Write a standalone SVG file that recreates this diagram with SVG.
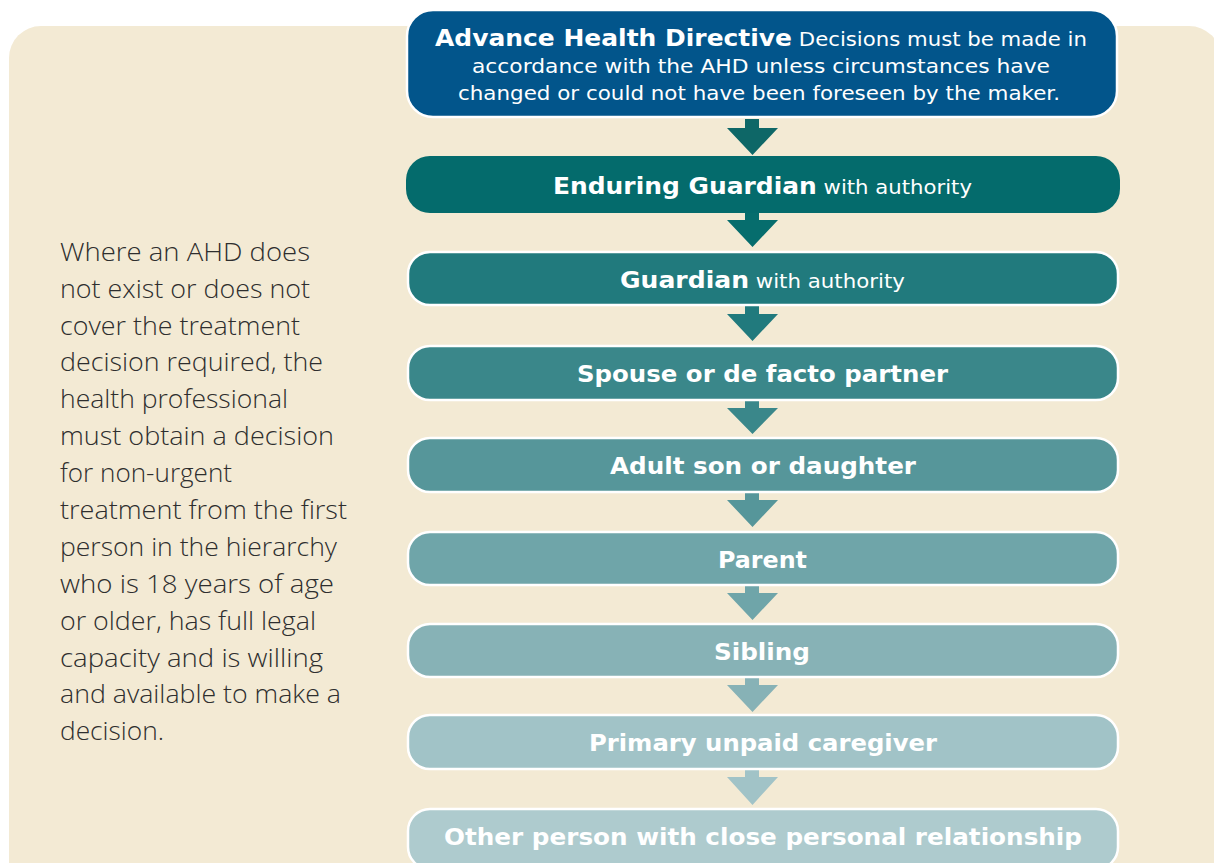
<svg xmlns="http://www.w3.org/2000/svg" width="1214" height="863" viewBox="0 0 1214 863">
<style>
.bx{stroke:#ffffff;stroke-width:2.5}
.t{font-family:"DejaVu Sans","Liberation Sans",Arial,sans-serif;fill:#ffffff;text-anchor:middle}
.b{font-weight:bold;font-size:23.5px}
.r{font-weight:normal;font-size:20px}
.side{font-family:"Open Sans","Liberation Sans",Arial,sans-serif;font-weight:300;font-size:26px;fill:#2e2e2e}
</style>
<rect x="0" y="0" width="1214" height="863" fill="#ffffff"/>
<rect x="9" y="26" width="1212" height="900" rx="32" fill="#F3EAD4"/>
<g id="side-text" class="side">
<text x="60" y="261" textLength="250" lengthAdjust="spacingAndGlyphs">Where an AHD does</text>
<text x="60" y="298" textLength="250" lengthAdjust="spacingAndGlyphs">not exist or does not</text>
<text x="60" y="335" textLength="240" lengthAdjust="spacingAndGlyphs">cover the treatment</text>
<text x="60" y="371" textLength="263" lengthAdjust="spacingAndGlyphs">decision required, the</text>
<text x="60" y="408" textLength="228" lengthAdjust="spacingAndGlyphs">health professional</text>
<text x="60" y="445" textLength="274" lengthAdjust="spacingAndGlyphs">must obtain a decision</text>
<text x="60" y="482" textLength="172" lengthAdjust="spacingAndGlyphs">for non-urgent</text>
<text x="60" y="519" textLength="287" lengthAdjust="spacingAndGlyphs">treatment from the first</text>
<text x="60" y="556" textLength="277" lengthAdjust="spacingAndGlyphs">person in the hierarchy</text>
<text x="60" y="593" textLength="274" lengthAdjust="spacingAndGlyphs">who is 18 years of age</text>
<text x="60" y="630" textLength="256" lengthAdjust="spacingAndGlyphs">or older, has full legal</text>
<text x="60" y="667" textLength="263" lengthAdjust="spacingAndGlyphs">capacity and is willing</text>
<text x="60" y="703" textLength="281" lengthAdjust="spacingAndGlyphs">and available to make a</text>
<text x="60" y="740" textLength="104" lengthAdjust="spacingAndGlyphs">decision.</text>
</g>
<g id="connectors">
<polygon points="745,119 759,119 759,128 778,128 752.5,155 727,128 745,128" fill="#0E6767"/>
<polygon points="745,213 759,213 759,220 778,220 752.5,247 727,220 745,220" fill="#066D6D"/>
<polygon points="745,306 759,306 759,314 778,314 752.5,341 727,314 745,314" fill="#217A7D"/>
<polygon points="745,401 759,401 759,408 778,408 752.5,434 727,408 745,408" fill="#3A878A"/>
<polygon points="745,493 759,493 759,500 778,500 752.5,527 727,500 745,500" fill="#56969A"/>
<polygon points="745,586 759,586 759,593 778,593 752.5,620 727,593 745,593" fill="#6FA5A9"/>
<polygon points="745,678 759,678 759,685 778,685 752.5,712 727,685 745,685" fill="#87B2B6"/>
<polygon points="745,770 759,770 759,777 778,777 752.5,805 727,777 745,777" fill="#A1C3C7"/>
</g>
<g id="n-ahd">
<rect class="bx" x="407" y="10" width="710" height="107" rx="26" fill="#02558B"/>
<text class="t" x="761" y="46" textLength="652" lengthAdjust="spacingAndGlyphs"><tspan class="b">Advance Health Directive</tspan><tspan class="r"> Decisions must be made in</tspan></text>
<text class="t r" x="761" y="73" textLength="578" lengthAdjust="spacingAndGlyphs">accordance with the AHD unless circumstances have</text>
<text class="t r" x="759" y="100" textLength="602" lengthAdjust="spacingAndGlyphs">changed or could not have been foreseen by the maker.</text>
</g>
<g id="n-enduring">
<rect x="406" y="156" width="714" height="57" rx="24" fill="#046B6C"/>
<text class="t" x="762.5" y="194" textLength="419" lengthAdjust="spacingAndGlyphs"><tspan class="b">Enduring Guardian</tspan><tspan class="r"> with authority</tspan></text>
</g>
<g id="n-guardian">
<rect class="bx" x="408" y="252" width="710" height="53" rx="22" fill="#217A7D"/>
<text class="t" x="762.5" y="288" textLength="285" lengthAdjust="spacingAndGlyphs"><tspan class="b">Guardian</tspan><tspan class="r"> with authority</tspan></text>
</g>
<g id="n-spouse">
<rect class="bx" x="408" y="346" width="710" height="54" rx="22" fill="#3A878A"/>
<text class="t b" x="762.5" y="382" textLength="371" lengthAdjust="spacingAndGlyphs">Spouse or de facto partner</text>
</g>
<g id="n-adult">
<rect class="bx" x="408" y="438" width="710" height="54" rx="22" fill="#56969A"/>
<text class="t b" x="763" y="474" textLength="306" lengthAdjust="spacingAndGlyphs">Adult son or daughter</text>
</g>
<g id="n-parent">
<rect class="bx" x="408" y="532" width="710" height="53" rx="22" fill="#6FA5A9"/>
<text class="t b" x="762.5" y="568" textLength="89" lengthAdjust="spacingAndGlyphs">Parent</text>
</g>
<g id="n-sibling">
<rect class="bx" x="408" y="624" width="710" height="53" rx="22" fill="#87B2B6"/>
<text class="t b" x="762" y="660" textLength="96" lengthAdjust="spacingAndGlyphs">Sibling</text>
</g>
<g id="n-primary">
<rect class="bx" x="408" y="715" width="710" height="54" rx="22" fill="#A1C3C7"/>
<text class="t b" x="763" y="751" textLength="348" lengthAdjust="spacingAndGlyphs">Primary unpaid caregiver</text>
</g>
<g id="n-other">
<rect class="bx" x="408" y="809" width="710" height="60" rx="22" fill="#AECBCE"/>
<text class="t b" x="763" y="845" textLength="638" lengthAdjust="spacingAndGlyphs">Other person with close personal relationship</text>
</g>
</svg>
